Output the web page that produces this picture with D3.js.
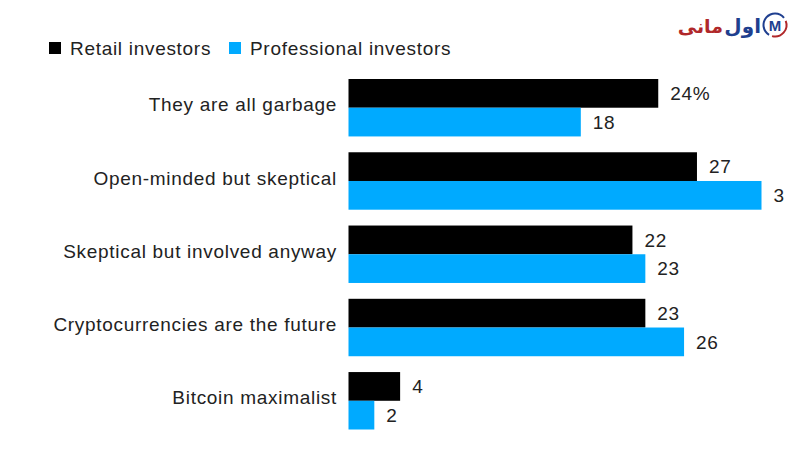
<!DOCTYPE html>
<html><head><meta charset="utf-8">
<script src="https://cdn.jsdelivr.net/npm/d3@7"></script>
<style>body{margin:0;background:#fff}svg{display:block}</style>
</head><body>
<svg id="c" width="800" height="450"></svg>
<script>
const categories = ["They are all garbage","Open-minded but skeptical","Skeptical but involved anyway","Cryptocurrencies are the future","Bitcoin maximalist"];
const seriesNames = ["Retail investors","Professional investors"];
const retail = [24,27,22,23,4];
const professional = [18,32,23,26,2];
const colors = ["#000000","#00aaff"];

const svg = d3.select("#c");
const font = "'Liberation Sans', Arial, Helvetica, sans-serif";
const fs = 19, ls = 0.7;
const x = d3.scaleLinear().domain([0,32]).range([348.5,761.5]);
const y = d3.scaleBand().domain(categories).range([79,429.5]).paddingInner(0.216).paddingOuter(0);
const sub = d3.scaleBand().domain(seriesNames).range([0,y.bandwidth()]);

svg.append("defs").append("clipPath").attr("id","clip")
  .append("rect").attr("x",0).attr("y",0).attr("width",784).attr("height",450);

const g = svg.append("g").attr("clip-path","url(#clip)");
const rows = categories.map((c,i)=>({c, vals:[retail[i],professional[i]]}));

const grp = g.selectAll("g.row").data(rows).join("g").attr("class","row")
  .attr("transform",d=>`translate(0,${y(d.c)})`);

grp.selectAll("rect").data(d=>d.vals.map((v,j)=>({v,j}))).join("rect")
  .attr("x",x(0)).attr("y",d=>sub(seriesNames[d.j]))
  .attr("width",d=>x(d.v)-x(0)).attr("height",sub.bandwidth())
  .attr("fill",d=>colors[d.j]);

grp.selectAll("text.val").data((d,i)=>d.vals.map((v,j)=>({v,j,i}))).join("text").attr("class","val")
  .attr("x",d=>x(d.v)+12).attr("y",d=>sub(seriesNames[d.j])+sub.bandwidth()/2)
  .attr("dy","0.35em").attr("font-family",font).attr("font-size",fs).attr("letter-spacing",ls).attr("fill","#222")
  .text(d=> (d.i===0 && d.j===0) ? d.v+"%" : d.v);

grp.append("text").attr("x",337).attr("y",y.bandwidth()/2-3).attr("dy","0.35em")
  .attr("text-anchor","end").attr("font-family",font).attr("font-size",fs).attr("letter-spacing",ls).attr("fill","#222")
  .text(d=>d.c);

// legend
const leg = svg.append("g");
const legX = [49,229];
seriesNames.forEach((n,i)=>{
  leg.append("rect").attr("x",legX[i]).attr("y",42).attr("width",12).attr("height",12).attr("fill",colors[i]);
  leg.append("text").attr("x",legX[i]+21).attr("y",55).attr("font-family",font).attr("font-size",fs).attr("letter-spacing",ls).attr("fill","#222").text(n);
});

// logo
const logo = svg.append("g");
const afont = "'DejaVu Sans', 'Noto Sans', sans-serif";
logo.append("text").attr("x",761).attr("y",33).attr("text-anchor","end")
  .attr("font-family",afont).attr("font-weight","bold").attr("font-size",20).attr("fill","#1f3f8f").text("اول");
logo.append("text").attr("x",723).attr("y",33).attr("text-anchor","end")
  .attr("font-family",afont).attr("font-weight","bold").attr("font-size",19).attr("fill","#b0282a").text("مانی");
const arc = d3.arc().innerRadius(10.5).outerRadius(12.5);
logo.append("path").attr("transform","translate(775,25)").attr("fill","#1f3f8f")
  .attr("d",arc({startAngle:-2.6,endAngle:0.9}));
logo.append("path").attr("transform","translate(775,25)").attr("fill","#b0282a")
  .attr("d",arc({startAngle:1.2,endAngle:3.4}));
logo.append("text").attr("x",775).attr("y",31).attr("text-anchor","middle")
  .attr("font-family",font).attr("font-weight","bold").attr("font-size",15).attr("fill","#1f3f8f").text("M");
</script>
</body></html>
